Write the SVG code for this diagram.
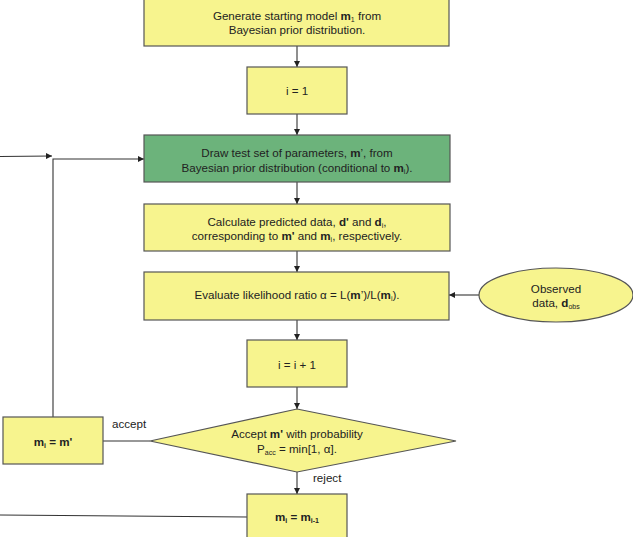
<svg xmlns="http://www.w3.org/2000/svg" width="633" height="537" viewBox="0 0 633 537">
<defs>
<marker id="ah" viewBox="0 0 10 10" refX="10" refY="5" markerWidth="6" markerHeight="6" markerUnits="userSpaceOnUse" orient="auto">
<path d="M0,0 L10,5 L0,10 z" fill="#222"/>
</marker>
<style>
.y{fill:#f7f48e;stroke:#555;stroke-width:1.2}
.g{fill:#6cb37b;stroke:#555;stroke-width:1.2}
text{font-family:"Liberation Sans",Arial,sans-serif;font-size:11.6px;fill:#222;text-anchor:middle}
.b{font-weight:bold}
.s{font-size:7px}
.c{fill:none;stroke:#333;stroke-width:1.1}
.l{text-anchor:start}
</style>
</defs>
<g id="connectors">
<line class="c" x1="297" y1="46" x2="297" y2="67" marker-end="url(#ah)"/>
<line class="c" x1="297" y1="114" x2="297" y2="135" marker-end="url(#ah)"/>
<line class="c" x1="297" y1="182" x2="297" y2="204" marker-end="url(#ah)"/>
<line class="c" x1="297" y1="251" x2="297" y2="272" marker-end="url(#ah)"/>
<line class="c" x1="479" y1="295" x2="449" y2="295" marker-end="url(#ah)"/>
<line class="c" x1="297" y1="320" x2="297" y2="340" marker-end="url(#ah)"/>
<line class="c" x1="297" y1="387" x2="297" y2="409" marker-end="url(#ah)"/>
<line class="c" x1="297" y1="472" x2="297" y2="494" marker-end="url(#ah)"/>
<line class="c" x1="150" y1="441" x2="103" y2="441"/>
<polyline class="c" points="53,417 53,159 144,159" marker-end="url(#ah)"/>
<line class="c" x1="0" y1="156.5" x2="52" y2="156" marker-end="url(#ah)"/>
<line class="c" x1="0" y1="515" x2="247" y2="517"/>
<text class="l" x="112" y="428">accept</text>
<text class="l" x="313" y="482">reject</text>
</g>
<g id="start">
<rect class="y" x="144" y="-2" width="305" height="48"/>
<text x="297" y="19.5">Generate starting model <tspan class="b">m</tspan><tspan class="s" dy="2">1</tspan><tspan dy="-2"> from</tspan></text>
<text x="297" y="34">Bayesian prior distribution.</text>
</g>
<g id="init">
<rect class="y" x="247" y="67" width="100" height="47"/>
<text x="297" y="95">i = 1</text>
</g>
<g id="draw">
<rect class="g" x="144" y="135" width="306" height="47"/>
<text x="297" y="157">Draw test set of parameters, <tspan class="b">m</tspan>’, from</text>
<text x="297" y="172">Bayesian prior distribution (conditional to <tspan class="b">m</tspan><tspan class="s" dy="2">i</tspan><tspan dy="-2">).</tspan></text>
</g>
<g id="calc">
<rect class="y" x="144" y="204" width="306" height="47"/>
<text x="297" y="225.5">Calculate predicted data, <tspan class="b">d'</tspan> and <tspan class="b">d</tspan><tspan class="s" dy="2">i</tspan><tspan dy="-2">,</tspan></text>
<text x="297" y="240">corresponding to <tspan class="b">m'</tspan> and <tspan class="b">m</tspan><tspan class="s" dy="2">i</tspan><tspan dy="-2">, respectively.</tspan></text>
</g>
<g id="evaluate">
<rect class="y" x="144" y="272" width="305" height="48"/>
<text x="297" y="299">Evaluate likelihood ratio α = L(<tspan class="b">m</tspan>’)/L(<tspan class="b">m</tspan><tspan class="s" dy="2">i</tspan><tspan dy="-2">).</tspan></text>
</g>
<g id="observed">
<ellipse class="y" cx="556" cy="295" rx="77" ry="27"/>
<text x="556" y="293">Observed</text>
<text x="556" y="307">data, <tspan class="b">d</tspan><tspan class="s" dy="2">obs</tspan></text>
</g>
<g id="increment">
<rect class="y" x="247" y="340" width="100" height="47"/>
<text x="297" y="369">i = i + 1</text>
</g>
<g id="decision">
<polygon class="y" points="297,409 456,441 297,472 150,441"/>
<text x="297" y="438">Accept <tspan class="b">m'</tspan> with probability</text>
<text x="297" y="453">P<tspan class="s" dy="2">acc</tspan><tspan dy="-2"> = min[1, α].</tspan></text>
</g>
<g id="accept">
<rect class="y" x="3" y="417" width="100" height="47"/>
<text x="53" y="446" class="b">m<tspan class="s" dy="2">i</tspan><tspan dy="-2"> = m'</tspan></text>
</g>
<g id="reject">
<rect class="y" x="247" y="494" width="100" height="47"/>
<text x="297" y="521" class="b">m<tspan class="s" dy="2">i</tspan><tspan dy="-2"> = m</tspan><tspan class="s" dy="2">i-1</tspan></text>
</g>
</svg>
